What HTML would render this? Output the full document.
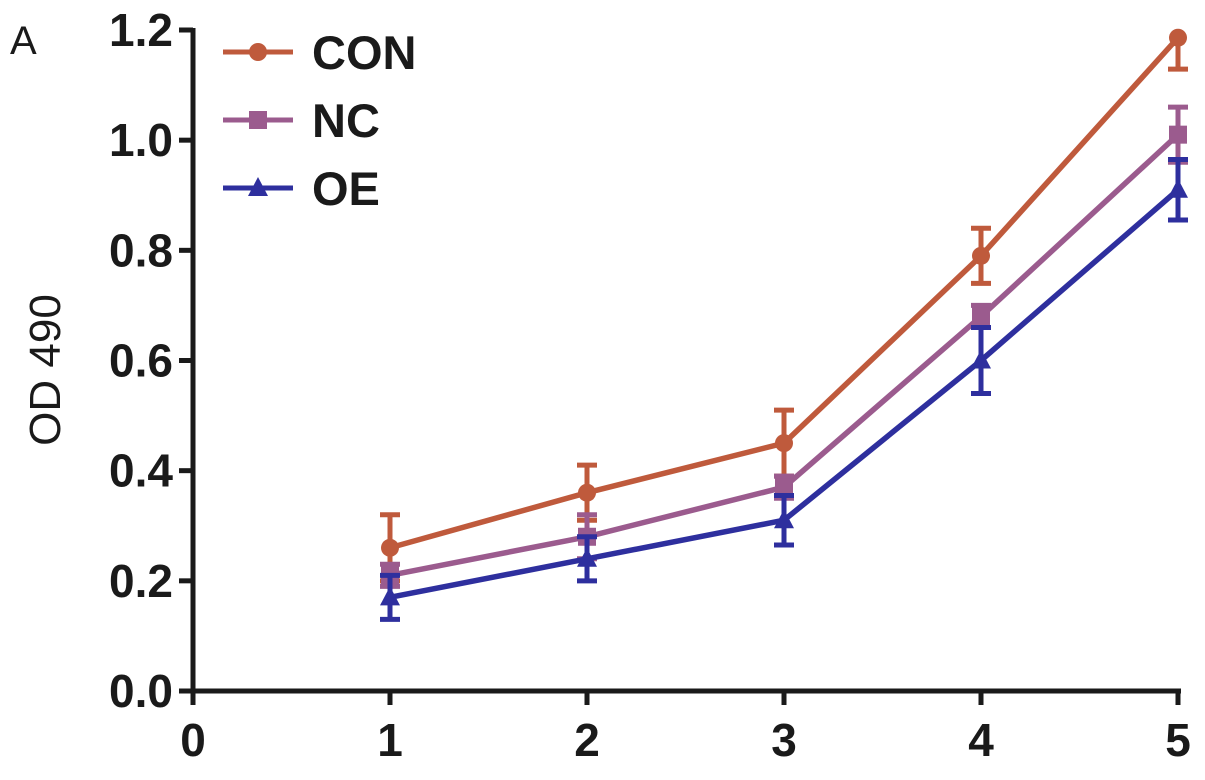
<!DOCTYPE html>
<html><head><meta charset="utf-8"><style>
html,body{margin:0;padding:0;background:#fff;}
svg{display:block;font-family:"Liberation Sans",Arial,sans-serif;}
</style></head><body>
<svg id="chart" width="1205" height="780"></svg>
<script>
const categories=[1,2,3,4,5];
const conValues=[0.26,0.36,0.45,0.79,1.186];
const conErrors=[0.06,0.05,0.06,0.05,0.057];
const ncValues=[0.21,0.28,0.37,0.68,1.01];
const ncErrors=[0.02,0.04,0.02,0.02,0.05];
const oeValues=[0.17,0.24,0.31,0.60,0.91];
const oeErrors=[0.04,0.04,0.045,0.06,0.055];
const xTicks=[0,1,2,3,4,5];
const yTicks=[0.0,0.2,0.4,0.6,0.8,1.0,1.2];

const NS="http://www.w3.org/2000/svg";
const svg=document.getElementById('chart');
const X0=193,X1=1178,Y0=691,Y1=30;
const xs=v=>X0+(v-0)/5*(X1-X0);
const ys=v=>Y0-(v/1.2)*(Y0-Y1);
function mk(tag,attrs,parent){const e=document.createElementNS(NS,tag);for(const k in attrs)e.setAttribute(k,attrs[k]);(parent||svg).appendChild(e);return e;}

const axes=mk('g',{});


mk('line',{x1:X0,y1:Y1-2,x2:X0,y2:Y0+2,stroke:'#1a1a1a','stroke-width':5},axes);
mk('line',{x1:X0-2,y1:Y0,x2:X1+3,y2:Y0,stroke:'#1a1a1a','stroke-width':5},axes);
yTicks.forEach(t=>{
  const y=ys(t);
  const l=mk('line',{x1:X0-14,y1:y,x2:X0,y2:y,stroke:'#1a1a1a','stroke-width':5},axes);
  
  
  const tx=mk('text',{x:X0-20,y:y+16,'text-anchor':'end','font-size':46,'font-weight':'bold',fill:'#1a1a1a'},axes);
  tx.textContent=t.toFixed(1);
  
  
});
xTicks.forEach(t=>{
  const x=xs(t);
  const l=mk('line',{x1:x,y1:Y0,x2:x,y2:Y0+14,stroke:'#1a1a1a','stroke-width':5},axes);
  
  
  const tx=mk('text',{x:x,y:Y0+65,'text-anchor':'middle','font-size':46,'font-weight':'bold',fill:'#1a1a1a'},axes);
  tx.textContent=t;
  
  
});
const yt=mk('text',{x:0,y:0,transform:'translate(60,370) rotate(-90)','text-anchor':'middle','font-size':44,fill:'#1a1a1a'});
yt.textContent='OD 490';


const pl=mk('text',{x:10,y:54,'font-size':40,fill:'#1a1a1a'});
pl.textContent='A';



function marker(shape,x,y,color,g){
  if(shape==='circle')mk('circle',{cx:x,cy:y,r:9,fill:color},g);
  else if(shape==='square')mk('rect',{x:x-9,y:y-9,width:18,height:18,fill:color},g);
  else mk('polygon',{points:`${x},${y-11} ${x+10},${y+8} ${x-10},${y+8}`,fill:color},g);
}
const series=[
  {name:'CON',vals:conValues,errs:conErrors,color:'#bf5a3c',shape:'circle'},
  {name:'NC',vals:ncValues,errs:ncErrors,color:'#9b5b8e',shape:'square'},
  {name:'OE',vals:oeValues,errs:oeErrors,color:'#2e2f9e',shape:'triangle'}
];
series.forEach((s,si)=>{
  const g=mk('g',{});
  
  
  const pts=categories.map((c,i)=>xs(c)+','+ys(s.vals[i])).join(' ');
  mk('polyline',{points:pts,fill:'none',stroke:s.color,'stroke-width':5.5},g);
  categories.forEach((c,i)=>{
    const x=xs(c),y=ys(s.vals[i]);
    const topClip=ys(1.2);
    const yt2=Math.max(ys(s.vals[i]+s.errs[i]),topClip),yb=ys(s.vals[i]-s.errs[i]);
    const eb=mk('g',{},g);
    
    
    mk('line',{x1:x,y1:yt2,x2:x,y2:yb,stroke:s.color,'stroke-width':5},eb);
    if(yt2>topClip+1)mk('line',{x1:x-10,y1:yt2,x2:x+10,y2:yt2,stroke:s.color,'stroke-width':5},eb);
    mk('line',{x1:x-10,y1:yb,x2:x+10,y2:yb,stroke:s.color,'stroke-width':5},eb);
    marker(s.shape,x,y,s.color,g);
  });
  const ly=52+si*68;
  const le=mk('g',{});
  
  
  mk('line',{x1:223,y1:ly,x2:293,y2:ly,stroke:s.color,'stroke-width':5},le);
  marker(s.shape,258,ly,s.color,le);
  const t=mk('text',{x:312,y:ly+17,'font-size':47,'font-weight':'bold',fill:'#1a1a1a'},le);
  t.textContent=s.name;
});
</script>
</body></html>
